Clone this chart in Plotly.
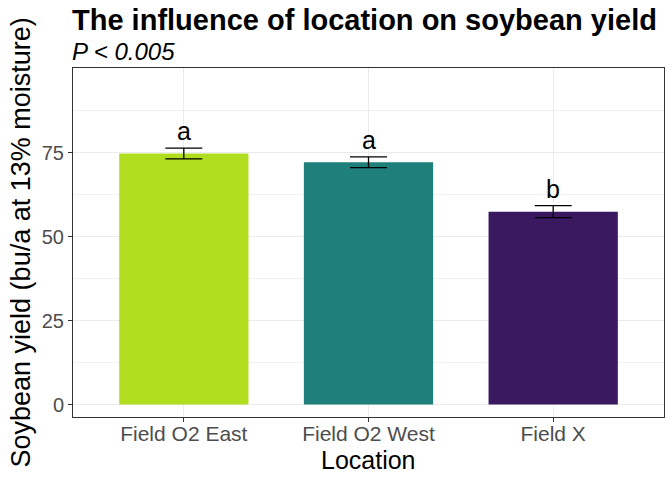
import plotly.graph_objects as go

locations = ["Field O2 East", "Field O2 West", "Field X"]
yield_mean = [74.8, 72.2, 57.5]
yield_se = [1.6, 1.6, 1.8]
letters = ["a", "a", "b"]
bar_colors = ["#B0DE1F", "#1F7F7A", "#3A1961"]

FONT = "Liberation Sans, Arial, Helvetica, sans-serif"

fig = go.Figure()
fig.add_trace(go.Bar(
    x=locations, y=yield_mean, width=0.7,
    marker=dict(color=bar_colors, line=dict(width=0)),
    error_y=dict(type="data", array=yield_se, visible=True,
                 color="black", thickness=1.3, width=18.5),
    showlegend=False,
))

for loc, m, s, lab in zip(locations, yield_mean, yield_se, letters):
    fig.add_annotation(x=loc, y=m + s, text=lab, showarrow=False,
                       yanchor="bottom", yshift=1,
                       font=dict(family=FONT, size=25, color="black"))

fig.add_annotation(xref="paper", yref="paper", x=0, y=1, xanchor="left",
                   yanchor="bottom", yshift=30, xshift=-3, showarrow=False,
                   text="<b>The influence of location on soybean yield</b>",
                   font=dict(family=FONT, size=29, color="black"))
fig.add_annotation(xref="paper", yref="paper", x=0, y=1, xanchor="left",
                   yanchor="bottom", yshift=1, xshift=-3, showarrow=False,
                   text="<i>P < 0.005</i>",
                   font=dict(family=FONT, size=24, color="black"))
# axis titles
fig.add_annotation(xref="paper", yref="paper", x=0.5, y=0, xanchor="center",
                   yanchor="middle", yshift=-43, showarrow=False,
                   text="Location",
                   font=dict(family=FONT, size=25, color="black"))
fig.add_annotation(xref="paper", yref="paper", x=0, y=0.5, xanchor="center",
                   yanchor="middle", xshift=-53, showarrow=False, textangle=-90,
                   text="Soybean yield (bu/a at 13% moisture)",
                   font=dict(family=FONT, size=27, color="black"))

fig.update_layout(
    width=672, height=480,
    margin=dict(l=73, r=8, t=68, b=63),
    paper_bgcolor="white", plot_bgcolor="white",
    font=dict(family=FONT),
)
fig.update_xaxes(
    range=[-0.6, 2.6], showgrid=True, gridcolor="#EBEBEB", gridwidth=1,
    showline=True, mirror=True, linecolor="#333333", linewidth=1,
    ticks="outside", ticklen=4, tickcolor="#333333",
    tickfont=dict(family=FONT, size=21, color="#4D4D4D"),
    ticklabelstandoff=-6,
    automargin=False, zeroline=False,
)
fig.update_yaxes(
    range=[-3.7, 100.3], tickvals=[0, 25, 50, 75],
    showgrid=True, gridcolor="#EBEBEB", gridwidth=1,
    minor=dict(tickvals=[12.5, 37.5, 62.5, 87.5], showgrid=True, gridcolor="#F2F2F2", gridwidth=0.6),
    showline=True, mirror=True, linecolor="#333333", linewidth=1,
    ticks="outside", ticklen=4, tickcolor="#333333",
    tickfont=dict(family=FONT, size=20, color="#4D4D4D"),
    automargin=False, zeroline=False,
)

# remove the page's default body margin so the 672x480 figure fills the window
fig.write_html("out.html", config={"displayModeBar": False},
               post_script="document.body.style.margin='0';")
